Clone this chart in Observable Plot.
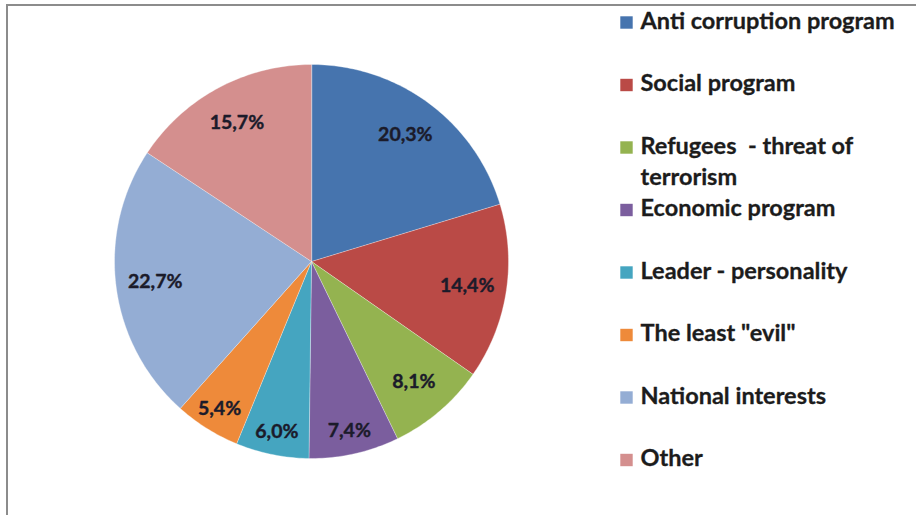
<!DOCTYPE html>
<html>
<head>
<meta charset="utf-8">
<script src="https://cdn.jsdelivr.net/npm/d3@7"></script>
<script src="https://cdn.jsdelivr.net/npm/@observablehq/plot@0.6"></script>
<style>
  html, body { margin: 0; padding: 0; background: #fff; }
  #wrap { position: relative; width: 916px; height: 515px; overflow: hidden; }
  #frame { position: absolute; left: 6px; top: 4px; width: 920px; height: 520px;
           border-top: 2px solid #8c8c8c; border-left: 2px solid #8c8c8c; pointer-events: none; }
</style>
</head>
<body>
<div id="wrap"><div id="frame"></div></div>
<script>
const categories = ["Anti corruption program", "Social program", "Refugees  - threat of\nterrorism", "Economic program", "Leader - personality", "The least \"evil\"", "National interests", "Other"];
const values = [20.3, 14.4, 8.1, 7.4, 6.0, 5.4, 22.7, 15.7];
const valueLabels = ["20,3%", "14,4%", "8,1%", "7,4%", "6,0%", "5,4%", "22,7%", "15,7%"];
const colors = ["#4674AE", "#BA4A46", "#94B350", "#7B5E9E", "#45A5C0", "#EE8A3A", "#94ADD4", "#D48F8E"];

const W = 916, H = 515;
const cx = 311, cy = 261, R = 197;

const arcs = d3.pie().sort(null).value(d => d.value)(categories.map((name, i) => ({name, value: values[i], label: valueLabels[i], i})));

const polyPts = [];
for (const a of arcs) {
  polyPts.push({name: a.data.name, x: cx, y: cy});
  const n = Math.max(4, Math.ceil((a.endAngle - a.startAngle) * 60));
  for (let k = 0; k <= n; k++) {
    const t = a.startAngle + (a.endAngle - a.startAngle) * k / n;
    polyPts.push({name: a.data.name, x: cx + R * Math.sin(t), y: cy - R * Math.cos(t)});
  }
}

const labelPts = arcs.map(a => {
  const m = (a.startAngle + a.endAngle) / 2;
  const f = a.data.value < 7.5 ? 0.88 : 0.8;
  return {label: a.data.label, x: cx + f * R * Math.sin(m), y: cy - f * R * Math.cos(m)};
});

const legendItems = categories.map((name, i) => ({name, i, x: 626, y: 22 + i * 62.5}));

const chart = Plot.plot({
  width: W, height: H,
  margin: 0,
  x: {domain: [0, W], range: [0, W], axis: null},
  y: {domain: [0, H], range: [0, H], axis: null},
  color: {domain: categories, range: colors},
  style: {background: "transparent"},
  marks: [
    Plot.line(polyPts, {x: "x", y: "y", z: "name", fill: "name", stroke: "#ffffff", strokeOpacity: 0.35, strokeWidth: 1, curve: "linear-closed"}),
    Plot.text(labelPts, {x: "x", y: "y", text: "label", fontSize: 19.5, fontWeight: "bold", fill: "#1b1b2a", fontFamily: "Lato", stroke: "#1b1b2a", strokeWidth: 0.4}),
    Plot.dot(legendItems, {x: "x", y: "y", symbol: "square", r: 7, fill: "name", stroke: "none"}),
    Plot.text(legendItems, {x: d => d.x + 14, y: "y", text: "name", textAnchor: "start", lineAnchor: "top", dy: -16, lineHeight: 1.33, fontSize: 23.5, fontWeight: "bold", fill: "#1c1c1c", fontFamily: "Lato", stroke: "#1c1c1c", strokeWidth: 0.3})
  ]
});
document.getElementById("wrap").prepend(chart);
</script>
</body>
</html>
